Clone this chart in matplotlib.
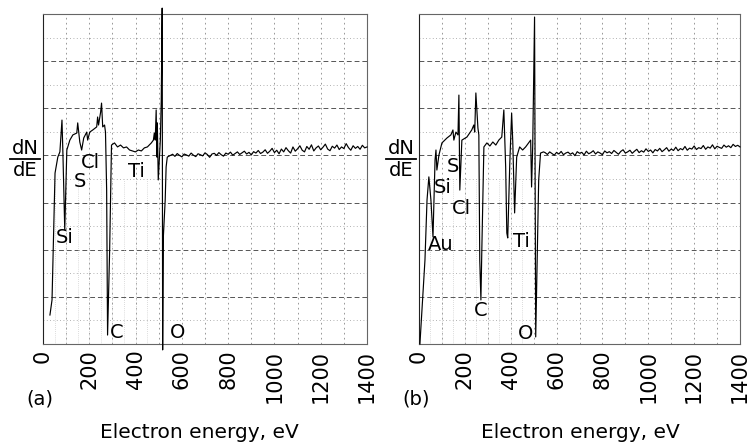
import numpy as np
import matplotlib
matplotlib.use("Agg")
import matplotlib.pyplot as plt

# energy (eV) and dN/dE (arbitrary units, 0-14)

# panel (a): peak region
a_peak_ev = [30, 39, 52, 64, 73, 82, 86, 94, 103, 116, 129, 146, 150, 159, 167, 176, 189,
             193, 202, 215, 232, 236, 240, 249, 253, 258, 266, 270, 275, 279, 288, 296,
             309, 322, 335, 348, 361, 374, 386, 399, 412, 425, 438, 451, 459, 468, 477,
             481, 485, 489, 492, 494, 498, 507, 511, 515, 517, 520, 528, 532, 537, 554]
a_peak_y = [1.23, 1.87, 7.25, 7.93, 8.15, 9.50, 8.10, 4.84, 8.23, 8.65, 8.87, 8.95, 9.38,
            8.57, 8.23, 8.74, 8.99, 8.65, 8.99, 9.08, 9.21, 9.63, 9.29, 9.84, 10.22, 9.21,
            9.29, 8.99, 6.53, 0.38, 3.99, 8.44,
            8.53, 8.36, 8.44, 8.32, 8.36, 8.23, 8.19, 8.15, 8.23, 8.19, 8.32, 8.36, 8.44,
            8.53, 8.65, 8.95, 8.65, 9.93, 7.93, 9.38, 6.96, 8.65, 10.35, 14.25, -0.25,
            4.54, 6.11, 7.51, 7.93, 8.02]

# panel (a): flat part, 560-1400 eV every 10 eV
a_base_y = [8.05, 7.96, 8.08, 8.00, 7.94, 8.06, 8.02, 7.97, 8.10, 8.01,
            7.95, 8.07, 8.03, 7.98, 8.11, 8.04, 7.92, 8.06, 8.09, 8.00,
            8.12, 8.03, 7.97, 8.10, 8.05, 8.14, 8.01, 8.08, 8.15, 8.04,
            8.11, 8.18, 8.06, 8.13, 8.02, 8.16, 8.10, 8.21, 8.08, 8.14,
            8.24, 8.09, 8.18, 8.30, 8.12, 8.22, 8.07, 8.27, 8.15, 8.33,
            8.20, 8.10, 8.36, 8.18, 8.28, 8.41, 8.22, 8.15, 8.38, 8.26,
            8.45, 8.19, 8.32, 8.40, 8.24, 8.35, 8.48, 8.27, 8.20, 8.39,
            8.31, 8.44, 8.25, 8.36, 8.29, 8.50, 8.33, 8.22, 8.41, 8.30,
            8.38, 8.26, 8.43, 8.32, 8.36]
a_base_ev = list(range(560, 1401, 10))

# panel (b): peak region
b_peak_ev = [4, 26, 35, 43, 52, 61, 70, 74, 78, 87, 100, 122, 139, 148, 152, 161, 170,
             174, 178, 187, 209, 230, 239, 243, 248, 257, 261, 265, 270, 274, 283, 296,
             309, 322, 335, 348, 361, 370, 378, 383, 387, 396, 404, 409, 417, 426, 439,
             452, 465, 478, 487, 491, 496, 504, 509, 522, 530, 543]
b_peak_y = [0.00, 3.56, 6.11, 7.09, 6.11, 4.54, 7.81, 8.23, 7.38, 8.02, 8.53, 8.74, 8.87,
            9.08, 8.65, 8.99, 8.87, 10.56, 6.53, 8.65, 8.78, 9.08, 9.29, 8.99, 10.65, 9.16,
            8.87, 3.56, 1.87, 3.99, 8.36, 8.53, 8.40, 8.57, 8.44, 8.65, 8.78, 9.93, 7.51,
            4.71, 4.50, 7.68, 9.80, 8.57, 5.56, 7.93, 8.36, 8.23, 8.36, 8.53, 8.65, 6.66,
            8.44, 13.87, 0.30, 6.96, 8.10, 8.15]

# panel (b): flat part, 550-1400 eV every 10 eV
b_base_y = [8.12, 8.04, 8.15, 8.08, 8.01, 8.13, 8.06, 8.17, 8.03, 8.10,
            8.14, 8.05, 8.11, 7.99, 8.16, 8.09, 8.13, 8.02, 8.18, 8.07,
            8.12, 8.20, 8.06, 8.15, 8.10, 8.03, 8.19, 8.11, 8.16, 8.08,
            8.21, 8.13, 8.05, 8.17, 8.24, 8.10, 8.15, 8.22, 8.09, 8.18,
            8.26, 8.12, 8.20, 8.14, 8.28, 8.17, 8.23, 8.11, 8.25, 8.19,
            8.30, 8.16, 8.24, 8.33, 8.18, 8.27, 8.21, 8.35, 8.20, 8.29,
            8.24, 8.38, 8.22, 8.31, 8.27, 8.40, 8.25, 8.33, 8.29, 8.42,
            8.26, 8.36, 8.31, 8.45, 8.28, 8.39, 8.34, 8.30, 8.44, 8.35,
            8.41, 8.33, 8.47, 8.38, 8.43, 8.36]
b_base_ev = list(range(550, 1401, 10))

# element labels: (text, eV, y)
a_labels = [("Si", 95, 4.5), ("S", 159, 6.9), ("Cl", 206, 7.7), ("Ti", 403, 7.3),
            ("C", 318, 0.5), ("O", 580, 0.5)]
b_labels = [("S", 148, 7.55), ("Si", 104, 6.65), ("Cl", 187, 5.75), ("Au", 96, 4.2),
            ("Ti", 448, 4.35), ("C", 270, 1.4), ("O", 465, 0.45)]

xticks = [0, 200, 400, 600, 800, 1000, 1200, 1400]

fig = plt.figure(figsize=(7.5, 4.45), dpi=100)
W, H = 750.0, 445.0


def panel(x0, x1, ev, y, labels, tag, title_x):
    ax = fig.add_axes([x0 / W, (H - 344) / H, (x1 - x0) / W, 330 / H])
    ax.set_xlim(0, 1400)
    ax.set_ylim(0, 14)
    # chart-paper grid
    for v in range(1, 14):
        if v % 2 == 0:
            ax.axhline(v, color="#555555", lw=0.7, ls=(0, (5, 3)), zorder=0)
        else:
            ax.axhline(v, color="#999999", lw=0.6, ls=(0, (1, 3)), zorder=0)
    for e in range(100, 1400, 100):
        ax.axvline(e, color="#888888", lw=0.6, ls=(0, (2, 4)), zorder=0)
    for e in range(50, 500, 50):
        ax.plot([e, e], [0, 7], color="#bbbbbb", lw=0.5, ls=(0, (1, 2)), zorder=0)
    for s in ax.spines.values():
        s.set_color("#666666")
        s.set_linewidth(0.8)
    ax.spines["left"].set_color("#222222")
    ax.plot(ev, y, color="black", lw=0.85, clip_on=False, zorder=3)
    for txt, lx, ly in labels:
        ax.text(lx, ly, txt, fontsize=14, ha="center", va="center", zorder=4)
    ax.set_yticks([])
    ax.set_xticks(xticks)
    ax.set_xticklabels([str(t) for t in xticks], rotation=90, fontsize=15)
    ax.tick_params(axis="x", length=0, pad=4)
    # dN/dE fraction
    fx = (x0 - 18) / W
    fig.text(fx, (H - 148) / H, "dN", fontsize=14, ha="center", va="center")
    fig.text(fx, (H - 171) / H, "dE", fontsize=14, ha="center", va="center")
    fig.add_artist(plt.Line2D([fx - 15 / W, fx + 15 / W], [(H - 159) / H] * 2,
                              color="black", lw=1.3))
    fig.text((x0 - 3) / W, (H - 399) / H, tag, fontsize=14, ha="center", va="center")
    fig.text(title_x / W, (H - 432) / H, "Electron energy, eV", fontsize=14.5,
             ha="center", va="center")
    return ax


panel(43, 367, a_peak_ev + a_base_ev, a_peak_y + a_base_y, a_labels, "(a)", 199)
panel(419, 740, b_peak_ev + b_base_ev, b_peak_y + b_base_y, b_labels, "(b)", 580)

fig.savefig("out.png", dpi=100)
